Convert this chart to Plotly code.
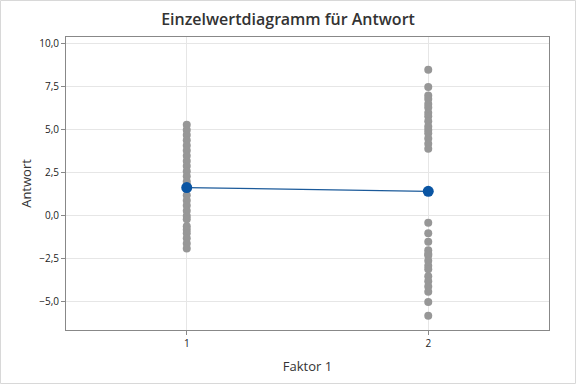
import plotly.graph_objects as go

levels = [1, 2]
group1 = [5.3, 5.0, 4.7, 4.4, 4.1, 3.8, 3.5, 3.2, 2.9, 2.6, 2.3, 2.0, 1.8, 1.6, 1.2,
          0.9, 0.6, 0.3, 0.0, -0.2, -0.6, -0.8, -1.0, -1.3, -1.6, -1.9]
group2 = [8.5, 7.5, 7.0, 6.8, 6.5, 6.3, 6.0, 5.8, 5.5, 5.2, 5.0, 4.8, 4.5, 4.2, 3.9,
          -0.4, -1.0, -1.5, -2.0, -2.2, -2.3, -2.6, -2.9, -3.1, -3.5, -3.8, -4.1, -4.4, -5.0, -5.8]
groups = [group1, group2]
means = [sum(g) / len(g) for g in groups]

fig = go.Figure()
for lv, g in zip(levels, groups):
    fig.add_trace(go.Scatter(x=[lv] * len(g), y=g, mode="markers",
                             marker=dict(color="#979797", size=8), showlegend=False,
                             hoverinfo="y"))
fig.add_trace(go.Scatter(x=levels, y=means, mode="lines+markers",
                         line=dict(color="#1B5A9A", width=1.3),
                         marker=dict(color="#0A55A3", size=11), showlegend=False))

W, H = 576, 384
l, r, t, b = 66, 27, 37, 54
pw, ph = W - l - r, H - t - b
fig.add_shape(type="rect", xref="paper", yref="paper",
              x0=-(l - 0.5) / pw, x1=1 + (r - 0.5) / pw,
              y0=-(b - 0.5) / ph, y1=1 + (t - 0.5) / ph,
              line=dict(color="#d8d8d8", width=1), layer="below")

fig.update_layout(
    width=W, height=H,
    margin=dict(l=l, r=r, t=t, b=b),
    paper_bgcolor="white", plot_bgcolor="white",
    separators=",.",
    font=dict(family="Open Sans, Noto Sans, sans-serif", color="#222"),
    title=dict(text="Einzelwertdiagramm für Antwort", x=0.5, xanchor="center",
               y=1 - 19 / H, yanchor="middle",
               font=dict(size=16, color="#333", family="Open Sans SemiBold, Open Sans, sans-serif")),
    xaxis=dict(range=[0.5, 2.5], tickvals=levels, ticktext=[str(v) for v in levels],
               showgrid=True, gridcolor="#e6e6e6", zeroline=False,
               showline=True, linecolor="#888", mirror=True, linewidth=1,
               ticks="outside", ticklen=4, tickcolor="#888",
               tickfont=dict(size=10, color="#222"),
               title=dict(text="Faktor 1", font=dict(size=13, color="#333"), standoff=12)),
    yaxis=dict(range=[-6.63, 10.4], tickvals=[-5, -2.5, 0, 2.5, 5, 7.5, 10], tickformat=".1f",
               showgrid=True, gridcolor="#e6e6e6", zeroline=False,
               showline=True, linecolor="#888", mirror=True, linewidth=1,
               ticks="outside", ticklen=4, tickcolor="#888",
               tickfont=dict(size=10, color="#222"),
               title=dict(text="Antwort", font=dict(size=13, color="#333"), standoff=4)),
)

fig.write_html("out.html")
